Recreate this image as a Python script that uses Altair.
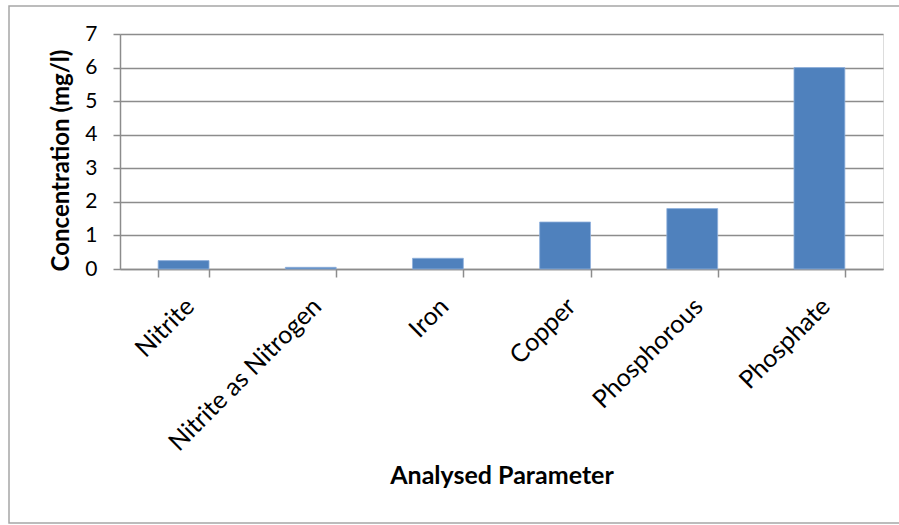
import altair as alt
import pandas as pd

# Measured concentrations for each analysed parameter
params = ["Nitrite", "Nitrite as Nitrogen", "Iron", "Copper", "Phosphorous", "Phosphate"]
conc = [0.25, 0.05, 0.32, 1.4, 1.8, 6.0]
y_ticks = [0, 1, 2, 3, 4, 5, 6, 7]

df = pd.DataFrame({"param": params, "conc": conc})

FONT = "Lato"
GRID = "#8c8c8c"

bars = alt.Chart(df).mark_bar(color="#4f81bd", stroke="#8fb0dc", strokeWidth=0.8).encode(
    x=alt.X(
        "param:N",
        sort=params,
        scale=alt.Scale(paddingInner=0.6, paddingOuter=0.3),
        axis=alt.Axis(
            title="Analysed Parameter",
            titleFont=FONT,
            titleFontSize=25,
            titleFontWeight="bold",
            titleColor="black",
            titleY=206,
            titleBaseline="middle",
            labelFont=FONT,
            labelFontSize=25,
            labelColor="black",
            labelAngle=-45,
            labelAlign="right",
            labelBaseline="middle",
            labelPadding=25,
            labelOffset=6,
            labelLimit=0,
            labelOverlap=False,
            tickBand="extent",
            tickSize=8,
            tickColor=GRID,
            tickWidth=1.5,
            domainColor=GRID,
            domainWidth=1.5,
            grid=False,
        ),
    ),
    y=alt.Y(
        "conc:Q",
        scale=alt.Scale(domain=[0, 7], nice=False),
        axis=alt.Axis(
            title="Concentration (mg/l)",
            titleFont=FONT,
            titleFontSize=24,
            titleFontWeight="bold",
            titleColor="black",
            titleX=-59,
            titleY=126,
            titleBaseline="middle",
            titleAlign="center",
            values=y_ticks,
            format="d",
            labelFont=FONT,
            labelFontSize=21,
            labelColor="black",
            labelPadding=16,
            tickSize=7,
            tickColor=GRID,
            tickWidth=1.5,
            domainColor=GRID,
            domainWidth=1.5,
            grid=True,
            gridColor=GRID,
            gridWidth=1.5,
        ),
    ),
)

# Outer frame around the whole chart
frame = alt.Chart(alt.Data(values=[{}])).mark_rect(
    fill=None, stroke="#a6a6a6", strokeWidth=1.5
).encode(
    x=alt.value(-111), x2=alt.value(800), y=alt.value(-28), y2=alt.value(489)
)

chart = alt.layer(frame, bars).properties(
    width=763,
    height=235,
    autosize=alt.AutoSizeParams(type="none"),
    padding={"left": 120, "top": 34, "right": 16, "bottom": 256},
).configure_view(stroke=None).configure(background="white")

chart.save("out.html", embed_options={"renderer": "svg", "actions": False})
